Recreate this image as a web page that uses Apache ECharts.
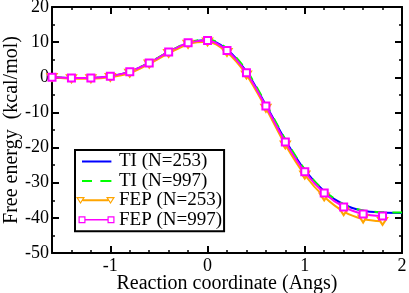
<!DOCTYPE html>
<html><head><meta charset="utf-8">
<script src="https://cdn.jsdelivr.net/npm/echarts@6/dist/echarts.min.js"></script>
<style>html,body{margin:0;padding:0;background:#fff}#c{width:409px;height:293px}</style>
</head><body><div id="c"></div>
<script>
var xTI = [-1.6,-1.4,-1.2,-1.0,-0.8,-0.6,-0.4,-0.2,0,0.2,0.4,0.6,0.8,1.0,1.2,1.4,1.6,1.8,2.0];
var ti253 = [0,-0.2,-0.2,0.3,1.6,4.1,7.2,9.8,10.6,7.9,1.6,-7.9,-17.9,-26.4,-32.4,-36.2,-38.0,-38.5,-38.6];
var ti997 = [0,-0.2,-0.2,0.3,1.6,4.2,7.3,9.9,10.8,8.2,2.0,-7.5,-17.6,-26.2,-32.3,-36.1,-37.9,-38.4,-38.5];
var xFEP = [-1.6,-1.4,-1.2,-1.0,-0.8,-0.6,-0.4,-0.2,0,0.2,0.4,0.6,0.8,1.0,1.2,1.4,1.6,1.8];
var fep253 = [0,-0.4,-0.4,0.0,1.2,3.8,6.8,9.4,10.1,7.1,0.7,-8.8,-19.2,-27.8,-34.0,-38.2,-40.3,-41.0];
var fep997 = [0,-0.2,-0.2,0.3,1.6,4.1,7.2,9.8,10.5,7.6,1.3,-8.2,-18.4,-26.9,-32.9,-36.9,-38.9,-39.5];
var xMajor = [-1,0,1,2];
var seriesNames = ['TI (N=253)','TI (N=997)','FEP (N=253)','FEP (N=997)'];

// legend glyphs (39x10 box, anchored by tiny corner dots)
var anchors = 'M0,0h0.01v0.01h-0.01zM38.99,9.99h0.01v0.01h-0.01z';
var icons = [
  'path://' + anchors + 'M6,4H35.4V6H6Z',
  'path://' + anchors + 'M6,4h10v2h-10zM24.4,4h11v2h-11z',
  'path://' + anchors + 'M0,1.7L9,1.7L4.5,8.7ZM2.2,2.9L4.5,6.6L6.8,2.9Z' +
    'M30,1.7L39,1.7L34.5,8.7ZM32.2,2.9L34.5,6.6L36.8,2.9Z' + 'M6.9,4H32.1V6H6.9Z',
  'path://' + anchors + 'M2.5,1.5H9.5V8.5H2.5ZM3.7,2.7V7.3H8.3V2.7Z' +
    'M31.5,1.5H38.5V8.5H31.5ZM32.7,2.7V7.3H37.3V2.7Z' + 'M9.5,4.2H31.5V5.8H9.5Z'
];

function zip(xs, ys){ return xs.map(function(x,i){return [x, ys[i]];}); }
var font = 'Liberation Serif';
var chart = echarts.init(document.getElementById('c'), null, {renderer:'canvas'});
var baseX = {type:'value', min:-1.6, max:2, gridIndex:0};
var lineOn = {show:true, onZero:false, lineStyle:{color:'#000', width:2}};
var lineOff = {show:false, onZero:false};
chart.setOption({
  animation:false,
  grid:{left:52, right:7, top:7, bottom:40, outerBoundsMode:'none', containLabel:false},
  xAxis:[
    Object.assign({}, baseX, {position:'bottom', interval:0.2,
      name:'Reaction coordinate (Angs)', nameLocation:'middle', nameGap:21, nameMoveOverlap:false,
      nameTextStyle:{fontFamily:font, fontSize:20, color:'#000'},
      axisLine:lineOn,
      axisTick:{show:true, inside:true, length:3, lineStyle:{color:'#000', width:1.5}},
      axisLabel:{show:true, margin:4, fontFamily:font, fontSize:18, color:'#000', hideOverlap:false,
        formatter:function(v){ var r=Math.round(v); return Math.abs(v-r)<1e-6 ? String(r) : ''; }},
      splitLine:{show:false}}),
    Object.assign({}, baseX, {position:'bottom',
      axisLine:lineOff,
      axisTick:{show:true, inside:true, length:7, customValues:xMajor, lineStyle:{color:'#000', width:2}},
      axisLabel:{show:false}, splitLine:{show:false}}),
    Object.assign({}, baseX, {position:'top', interval:0.2,
      axisLine:lineOn,
      axisTick:{show:true, inside:true, length:3, lineStyle:{color:'#000', width:1.5}},
      axisLabel:{show:false}, splitLine:{show:false}}),
    Object.assign({}, baseX, {position:'top',
      axisLine:lineOff,
      axisTick:{show:true, inside:true, length:7, customValues:xMajor, lineStyle:{color:'#000', width:2}},
      axisLabel:{show:false}, splitLine:{show:false}})
  ],
  yAxis:[
    {type:'value', min:-50, max:20, interval:10, position:'left',
      name:'Free energy  (kcal/mol)', nameLocation:'middle', nameGap:30, nameRotate:90, nameMoveOverlap:false,
      nameTextStyle:{fontFamily:font, fontSize:20, color:'#000'},
      axisLine:lineOn,
      axisTick:{show:true, inside:true, length:7, lineStyle:{color:'#000', width:2}},
      minorTick:{show:true, splitNumber:2, length:3, lineStyle:{color:'#000', width:1.5}},
      axisLabel:{margin:3, fontFamily:font, fontSize:18, color:'#000'},
      splitLine:{show:false}},
    {type:'value', min:-50, max:20, interval:10, position:'right',
      axisLine:lineOn,
      axisTick:{show:true, inside:true, length:7, lineStyle:{color:'#000', width:2}},
      minorTick:{show:true, splitNumber:2, length:3, lineStyle:{color:'#000', width:1.5}},
      axisLabel:{show:false}, splitLine:{show:false}}
  ],
  legend:{
    orient:'vertical', left:75, top:150, padding:[2,2,2,1],
    itemWidth:39, itemHeight:20, itemGap:0.4,
    borderColor:'#000', borderWidth:2, backgroundColor:'#fff',
    itemStyle:{borderWidth:0},
    textStyle:{fontFamily:font, fontSize:19, color:'#000', padding:[0,0,0,-1]},
    data:seriesNames.map(function(n,i){ return {name:n, icon:icons[i], iconRotate:0}; })
  },
  series:[
    {name:seriesNames[0], type:'line', data:zip(xTI, ti253), smooth:0.3, showSymbol:false, symbol:'none',
      lineStyle:{color:'#0000ff', width:2}, itemStyle:{color:'#0000ff'}},
    {name:seriesNames[1], type:'line', data:zip(xTI, ti997), smooth:0.3, showSymbol:false, symbol:'none',
      lineStyle:{color:'#00ff00', width:2, type:[10,8]}, itemStyle:{color:'#00ff00'}},
    {name:seriesNames[2], type:'line', data:zip(xFEP, fep253), smooth:0.3, symbol:'emptyTriangle', symbolSize:[9,7], symbolRotate:180,
      lineStyle:{color:'#ffa500', width:2}, itemStyle:{color:'#ffa500', borderWidth:1.2}},
    {name:seriesNames[3], type:'line', data:zip(xFEP, fep997), smooth:0.3, symbol:'emptyRect', symbolSize:7,
      lineStyle:{color:'#ff00ff', width:2}, itemStyle:{color:'#ff00ff', borderWidth:1.2}}
  ]
});
</script></body></html>
